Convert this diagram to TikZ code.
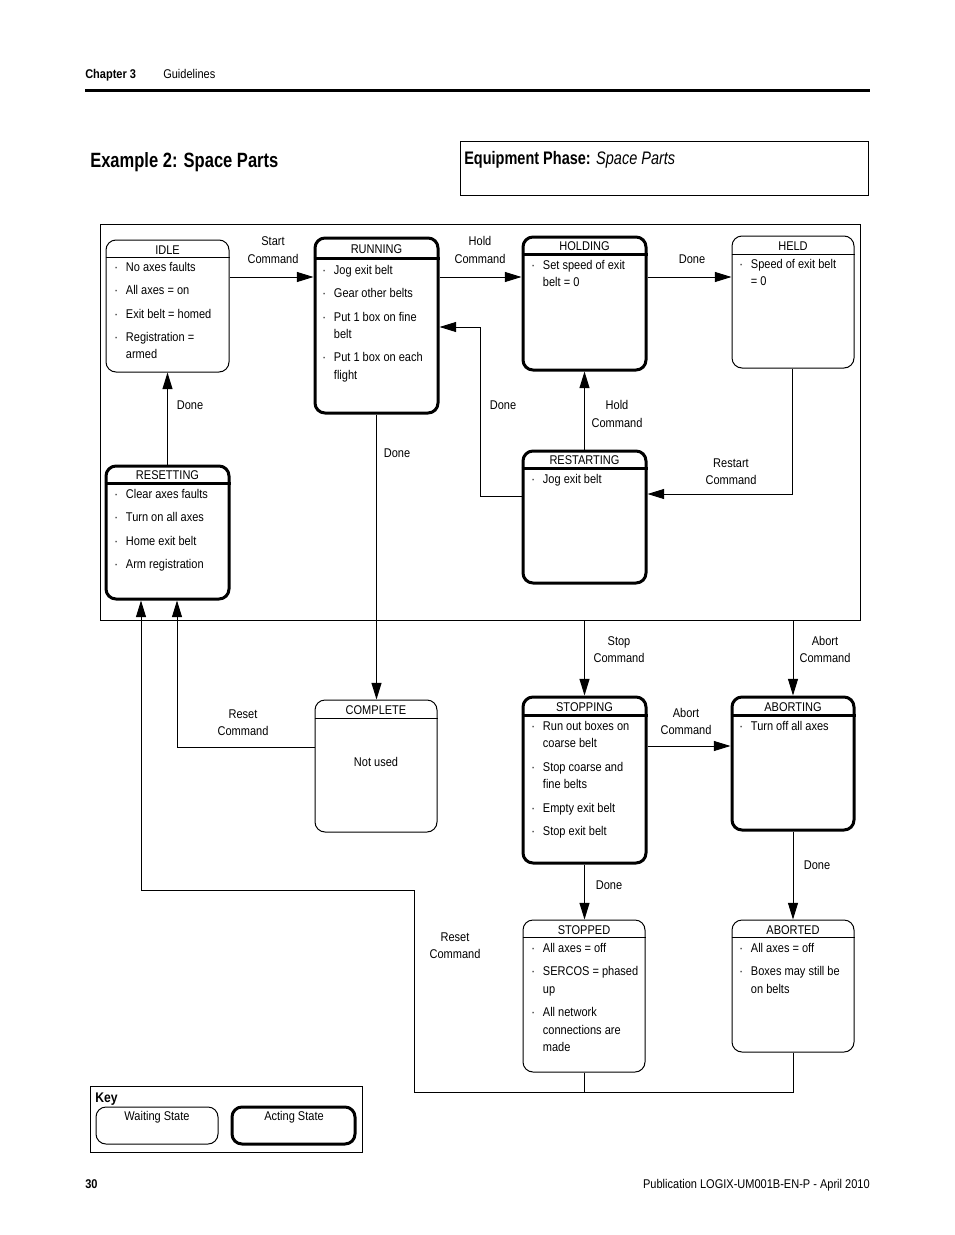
\documentclass[tikz,border=0pt]{standalone}
\usepackage{fontspec}
\setmainfont{Liberation Sans}[FakeStretch=0.87]
\newfontfamily\condfam{Liberation Sans}[FakeStretch=0.8]
\usetikzlibrary{arrows.meta,fit}
\newcommand\hdr[4]{%
  \draw[line width=#4] ([yshift=-#2]#1.north west) -- ([yshift=-#2]#1.north east);
  \node[ttl] (#1-t) at ([yshift=-#2/2-0.9pt]#1.north) {#3};}
\newcommand\bodyfont{\fontsize{9.5}{13.1}\selectfont}
\begin{document}
\begin{tikzpicture}[
  x=0.75pt, y=-0.75pt,
  wait/.style={draw, rounded corners=7.5pt, line width=0.75pt, inner sep=0pt},
  act/.style={draw, rounded corners=7.5pt, line width=2.25pt, inner sep=0pt},
  ttl/.style={inner sep=0pt, font=\bodyfont},
  lbl/.style={align=center, inner sep=0pt, font=\bodyfont},
  body/.style={anchor=base west, inner sep=0pt, font=\bodyfont},
  arr/.style={line width=0.75pt, -{Triangle[length=12.5pt,width=7.5pt]}},
  ln/.style={line width=0.75pt},
  boxfr/.style={draw, line width=0.75pt, inner sep=0pt}
]
\useasboundingbox (0,0) rectangle (954,1235);

% page header
\node[anchor=base west, inner sep=0pt, font=\fontsize{9.5}{11}\selectfont\bfseries] (chap) at (85,78.5) {Chapter 3};
\node[anchor=base west, inner sep=0pt, font=\bodyfont] (guide) at (163,78.5) {Guidelines};
\coordinate (rulea) at (85,90);
\coordinate (ruleb) at (870,90);
\draw[line width=2.25pt] (rulea) -- (ruleb);

\node[anchor=base west, inner sep=0pt, font=\condfam\fontsize{15.5}{18}\selectfont\bfseries] (title) at (90,167.5) {Example 2: Space Parts};
\node[boxfr, fit={(460,141)(868,195)}] (eqbox) {};
\node[anchor=base west, inner sep=0pt, font=\condfam\fontsize{13.6}{16}\selectfont] (eqt) at (464,164.5) {\textbf{Equipment Phase:} \textit{Space Parts}};

% main frame
\node[boxfr, fit={(100,224)(860,620)}] (frame) {};

% states
\node[wait, fit={(106,240)(229,372)}] (idle) {};
\node[act,  fit={(315,238)(438,413)}] (running) {};
\node[act,  fit={(523,237)(646,370)}] (holding) {};
\node[wait, fit={(732,236)(854,368)}] (held) {};
\node[act,  fit={(106,466)(229,599)}] (resetting) {};
\node[act,  fit={(523,451)(646,583)}] (restarting) {};
\node[wait, fit={(315,700)(437,832)}] (complete) {};
\node[act,  fit={(523,697)(646,863)}] (stopping) {};
\node[act,  fit={(732,697)(854,830)}] (aborting) {};
\node[wait, fit={(523,920)(645,1072)}] (stopped) {};
\node[wait, fit={(732,920)(854,1052)}] (aborted) {};

\hdr{idle}{13.5pt}{IDLE}{0.75pt}
\hdr{running}{16.5pt}{RUNNING}{2.25pt}
\hdr{holding}{14.25pt}{HOLDING}{2.25pt}
\hdr{held}{14.25pt}{HELD}{0.75pt}
\hdr{resetting}{14.25pt}{RESETTING}{2.25pt}
\hdr{restarting}{14.25pt}{RESTARTING}{2.25pt}
\hdr{complete}{14.25pt}{COMPLETE}{0.75pt}
\hdr{stopping}{15pt}{STOPPING}{2.25pt}
\hdr{aborting}{15pt}{ABORTING}{2.25pt}
\hdr{stopped}{13.5pt}{STOPPED}{0.75pt}
\hdr{aborted}{13.5pt}{ABORTED}{0.75pt}

% state contents
\node[body] (idle-b) at (114,271.5) {\begin{tabular}[t]{@{}l@{\hspace{6pt}}l@{}}
· & No axes faults\\[4.4pt]
· & All axes = on\\[4.4pt]
· & Exit belt = homed\\[4.4pt]
· & Registration =\\
  & armed
\end{tabular}};
\node[body] (running-b) at (322,274.5) {\begin{tabular}[t]{@{}l@{\hspace{6pt}}l@{}}
· & Jog exit belt\\[4.4pt]
· & Gear other belts\\[4.4pt]
· & Put 1 box on fine\\
  & belt\\[4.4pt]
· & Put 1 box on each\\
  & flight
\end{tabular}};
\node[body] (holding-b) at (531,269.5) {\begin{tabular}[t]{@{}l@{\hspace{6pt}}l@{}}
· & Set speed of exit\\
  & belt = 0
\end{tabular}};
\node[body] (held-b) at (739,268.5) {\begin{tabular}[t]{@{}l@{\hspace{6pt}}l@{}}
· & Speed of exit belt\\
  & = 0
\end{tabular}};
\node[body] (resetting-b) at (114,498.5) {\begin{tabular}[t]{@{}l@{\hspace{6pt}}l@{}}
· & Clear axes faults\\[4.4pt]
· & Turn on all axes\\[4.4pt]
· & Home exit belt\\[4.4pt]
· & Arm registration
\end{tabular}};
\node[body] (restarting-b) at (531,483.5) {\begin{tabular}[t]{@{}l@{\hspace{6pt}}l@{}}
· & Jog exit belt
\end{tabular}};
\node[ttl] (complete-b) at (376,762) {Not used};
\node[body] (stopping-b) at (531,730.5) {\begin{tabular}[t]{@{}l@{\hspace{6pt}}l@{}}
· & Run out boxes on\\
  & coarse belt\\[4.4pt]
· & Stop coarse and\\
  & fine belts\\[4.4pt]
· & Empty exit belt\\[4.4pt]
· & Stop exit belt
\end{tabular}};
\node[body] (aborting-b) at (739,730.5) {\begin{tabular}[t]{@{}l@{\hspace{6pt}}l@{}}
· & Turn off all axes
\end{tabular}};
\node[body] (stopped-b) at (531,952.5) {\begin{tabular}[t]{@{}l@{\hspace{6pt}}l@{}}
· & All axes = off\\[4.4pt]
· & SERCOS = phased\\
  & up\\[4.4pt]
· & All network\\
  & connections are\\
  & made
\end{tabular}};
\node[body] (aborted-b) at (739,952.5) {\begin{tabular}[t]{@{}l@{\hspace{6pt}}l@{}}
· & All axes = off\\[4.4pt]
· & Boxes may still be\\
  & on belts
\end{tabular}};

% helper coordinates
\coordinate (hA) at (0,277);
\coordinate (c1) at (480,496);
\coordinate (c2) at (480,327);
\coordinate (c3) at (792,494);
\coordinate (c4) at (177,747);
\coordinate (hB) at (0,746);
\coordinate (r1) at (414,1092);
\coordinate (r2) at (414,890);
\coordinate (r3) at (141,890);

% connectors
\draw[arr] (idle.east |- hA) -- (running.west |- hA);
\draw[arr] (running.east |- hA) -- (holding.west |- hA);
\draw[arr] (holding.east |- hA) -- (held.west |- hA);
\draw[arr] (resetting.north) -- (idle.south);
\draw[arr] (restarting.west |- c1) -- (c1) -- (c2) -- (running.east |- c2);
\draw[arr] (restarting.north) -- (holding.south);
\draw[arr] (held.south -| c3) -- (c3) -- (restarting.east |- c3);
\draw[arr] (running.south) -- (running.south |- complete.north);
\draw[arr] (complete.west |- c4) -- (c4) -- (c4 |- resetting.south);
\draw[arr] (frame.south -| stopping.north) -- (stopping.north);
\draw[arr] (frame.south -| aborting.north) -- (aborting.north);
\draw[arr] (stopping.east |- hB) -- (aborting.west |- hB);
\draw[arr] (stopping.south) -- (stopping.south |- stopped.north);
\draw[arr] (aborting.south) -- (aborted.north);
\draw[ln] (stopped.south) -- (stopped.south |- r1);
\draw[arr] (aborted.south) -- (aborted.south |- r1) -- (r1) -- (r2) -- (r3) -- (r3 |- resetting.south);

% connector labels
\node[lbl] (l1) at (273,250) {Start\\Command};
\node[lbl] (l2) at (480,250) {Hold\\Command};
\node[lbl] (l3) at (692,259) {Done};
\node[lbl] (l4) at (190,405) {Done};
\node[lbl] (l5) at (503,405) {Done};
\node[lbl] (l6) at (617,414) {Hold\\Command};
\node[lbl] (l7) at (731,471.5) {Restart\\Command};
\node[lbl] (l8) at (397,453) {Done};
\node[lbl] (l9) at (619,649.5) {Stop\\Command};
\node[lbl] (l10) at (825,649.5) {Abort\\Command};
\node[lbl] (l11) at (243,722.5) {Reset\\Command};
\node[lbl] (l12) at (686,721.5) {Abort\\Command};
\node[lbl] (l13) at (609,885) {Done};
\node[lbl] (l14) at (817,865) {Done};
\node[lbl] (l15) at (455,945.5) {Reset\\Command};

% key
\node[boxfr, fit={(90,1086)(362,1152)}] (keybox) {};
\node[anchor=base west, inner sep=0pt, font=\fontsize{10.5}{12}\selectfont\bfseries] (keyt) at (95,1102) {Key};
\node[wait, fit={(96,1107)(218,1144)}] (kwait) {};
\node[act, fit={(232,1107)(355,1144)}] (kact) {};
\node[ttl] (kwait-t) at (157,1117) {Waiting State};
\node[ttl] (kact-t) at (294,1117) {Acting State};

% footer
\node[anchor=base west, inner sep=0pt, font=\fontsize{9.5}{11}\selectfont\bfseries] (pgno) at (85,1188.5) {30};
\node[anchor=base east, inner sep=0pt, font=\bodyfont] (pub) at (870,1188.5) {Publication LOGIX-UM001B-EN-P - April 2010};
\end{tikzpicture}
\end{document}
